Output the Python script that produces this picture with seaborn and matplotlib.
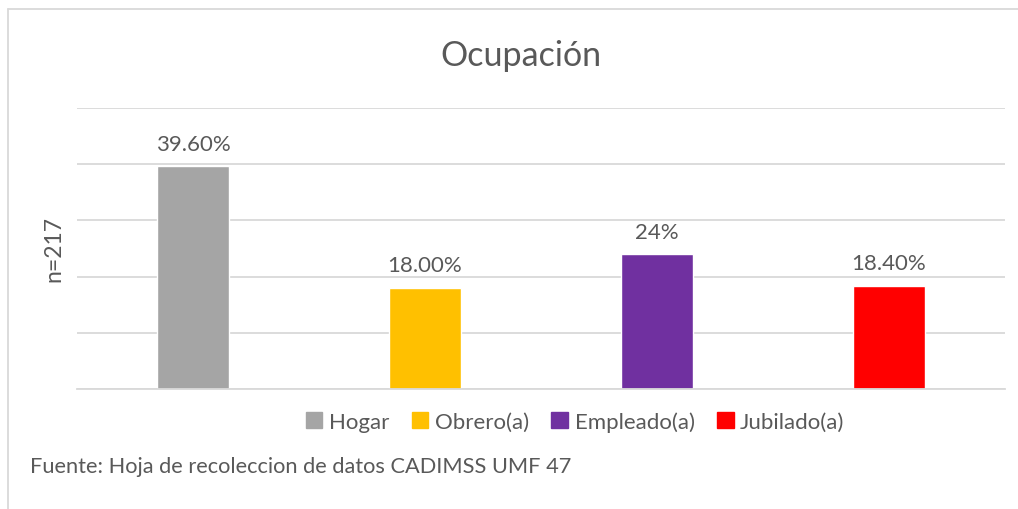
import matplotlib
matplotlib.use("Agg")
import matplotlib.pyplot as plt
import seaborn as sns
import pandas as pd
from matplotlib.lines import Line2D

# Datos
categorias = ["Hogar", "Obrero(a)", "Empleado(a)", "Jubilado(a)"]
porcentajes = [39.6, 18.0, 24.0, 18.4]
etiquetas = ["39.60%", "18.00%", "24%", "18.40%"]
colores = ["#A5A5A5", "#FFC000", "#7030A0", "#FF0000"]

sns.set_theme(style="white")
plt.rcParams['font.family'] = ['Lato', 'DejaVu Sans']
TXT = "#595959"
GRID = "#D9D9D9"

df = pd.DataFrame({"cat": categorias, "pct": porcentajes})

fig = plt.figure(figsize=(10.18, 5.10), dpi=100)
ax = fig.add_axes([0.0756, 0.2353, 0.9116, 0.5510])

sns.barplot(data=df, x="cat", y="pct", hue="cat", palette=colores,
            width=0.31, legend=False, saturation=1, ax=ax)

ax.set_ylim(0, 50)
ax.set_xlim(-0.5, 3.5)
ax.set_yticks(range(0, 51, 10))
ax.yaxis.grid(True, color=GRID, linewidth=1.3)
ax.set_axisbelow(True)
ax.tick_params(left=False, bottom=False, labelleft=False, labelbottom=False)
for s in ["top", "right", "left"]:
    ax.spines[s].set_visible(False)
ax.spines["bottom"].set_color(GRID)
ax.spines["bottom"].set_linewidth(1.3)
ax.set_xlabel("")
ax.set_ylabel("n=217", fontsize=16.5, color=TXT, labelpad=9)

for i, (v, lab) in enumerate(zip(porcentajes, etiquetas)):
    ax.annotate(lab, (i, v), xytext=(0, 9), textcoords="offset points",
                ha="center", va="bottom", fontsize=16, color=TXT)

fig.text(0.512, 0.89, "Ocupación", ha="center", va="center",
         fontsize=24.5, color=TXT)

handles = [plt.Rectangle((0, 0), 1, 1, color=c) for c in colores]
fig.legend(handles, categorias, loc="center", bbox_to_anchor=(0.565, 0.171),
           ncol=4, frameon=False, fontsize=16, labelcolor=TXT,
           handlelength=0.75, handleheight=0.75, handletextpad=0.3,
           columnspacing=1.0)

fig.text(30 / 1018, 1 - 467 / 510, "Fuente: Hoja de recoleccion de datos CADIMSS UMF 47",
         ha="left", va="center", fontsize=15.7, color=TXT)

# marco exterior del gráfico
fig.add_artist(Line2D([8 / 1018, 8 / 1018], [0, 1 - 10 / 510], color=GRID,
                      linewidth=1.3, transform=fig.transFigure))
fig.add_artist(Line2D([8 / 1018, 1], [1 - 10 / 510, 1 - 10 / 510], color=GRID,
                      linewidth=1.3, transform=fig.transFigure))

fig.savefig("out.png", dpi=100)
